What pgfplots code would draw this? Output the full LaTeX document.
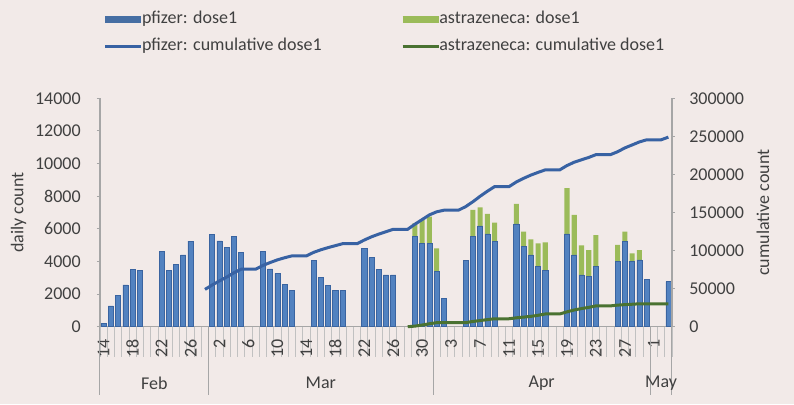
\documentclass[border=0pt]{standalone}
\usepackage{fontspec}
\setmainfont{Carlito}
\usepackage{pgfplots}
\usepackage{pgfplotstable}
\pgfplotsset{compat=1.18}

\definecolor{bgc}{HTML}{F2EAE8}
\definecolor{pfbar}{HTML}{5282C0}
\definecolor{pfedge}{HTML}{3A64A0}
\definecolor{azbar}{HTML}{9BBB59}
\definecolor{pfline}{HTML}{3862A3}
\definecolor{azline}{HTML}{4A7231}
\definecolor{axisgray}{HTML}{A6A6A6}
\definecolor{txt}{HTML}{404040}

% daily first doses (day 0 = 14 Feb)
\pgfplotstableread{
day pf az
0 200 0
1 1270 0
2 1900 0
3 2560 0
4 3520 0
5 3460 0
8 4600 0
9 3440 0
10 3840 0
11 4400 0
12 5240 0
15 5660 0
16 5260 0
17 4870 0
18 5520 0
19 4540 0
22 4600 0
23 3540 0
24 3270 0
25 2580 0
26 2250 0
29 4050 0
30 3030 0
31 2520 0
32 2250 0
33 2250 0
36 4800 0
37 4230 0
38 3520 0
39 3170 0
40 3170 0
43 5560 780
44 5110 1430
45 5110 1640
46 3370 1430
47 1740 0
50 4050 0
51 5520 1640
52 6180 1140
53 5690 1220
54 5210 1170
57 6300 1230
58 4910 920
59 4400 960
60 3680 1430
61 3440 1730
64 5690 2800
65 4400 2450
66 3170 1810
67 3070 1630
68 3680 1940
71 3990 1020
72 5210 620
73 3990 510
74 4090 610
75 2900 0
78 2760 0
}\daily

\pgfplotstableread{
day cum
14 49000
15 54800
16 60190
17 65190
18 70850
19 75500
20 75500
21 75500
22 80460
23 84270
24 87800
25 90580
26 93000
27 93000
28 93000
29 97600
30 101030
31 103890
32 106450
33 109000
34 109000
35 109000
36 113830
37 118080
38 121620
39 124810
40 128000
41 128000
42 128000
43 134650
44 140770
45 146880
46 150920
47 153000
48 153000
49 153000
50 157710
51 164130
52 171320
53 177940
54 184000
55 184000
56 184000
57 190100
58 194850
59 199110
60 202670
61 206000
62 206000
63 206000
64 211690
65 216090
66 219250
67 222320
68 226000
69 226000
70 226000
71 229860
72 234890
73 238750
74 242700
75 245500
76 245500
77 245500
78 249000
}\pfcum

\pgfplotstableread{
day cum
42 0
43 780
44 2210
45 3850
46 5280
47 5280
48 5280
49 5280
50 5280
51 6920
52 8060
53 9280
54 10450
55 10450
56 10450
57 11680
58 12600
59 13560
60 14990
61 16720
62 16720
63 16720
64 19520
65 21970
66 23780
67 25410
68 27350
69 27350
70 27350
71 28370
72 28990
73 29500
74 30110
75 30110
76 30110
77 30110
78 30110
}\azcum

\begin{document}
\begin{tikzpicture}[font=\fontsize{9}{10.8}\selectfont, text=txt]
\fill[bgc] (0,0) rectangle (397pt,202pt);
\useasboundingbox (0,0) rectangle (397pt,202pt);

\pgfplotsset{
  common/.style={
    scale only axis, width=286pt, height=114.2pt,
    at={(50pt,38.65pt)}, anchor=south west,
    xmin=-0.5, xmax=78.5, clip=false,
    axis line style={axisgray, line width=0.6pt},
    tick style={axisgray, line width=0.5pt},
    tick align=outside, major tick length=1.5pt,
    /pgf/number format/.cd, fixed, precision=0, assume math mode=true,
    set thousands separator={}, /pgfplots/.cd,
    scaled y ticks=false,
  }
}

\begin{axis}[common,
  ymin=0, ymax=14000, ytick={0,2000,...,14000},
  axis x line*=bottom, axis y line*=left,
  yticklabel style={xshift=-4.6pt},
  ybar stacked, bar width=0.7,
  xtick={0,4,...,76},
  xticklabels={14,18,22,26,2,6,10,14,18,22,26,30,3,7,11,15,19,23,27,1},
  xticklabel style={yshift=-1.4pt, rotate=90, anchor=east},
  major x tick style={draw=none},
  minor xtick={-0.5,0.5,...,78.5}, minor tick length=15pt,
  minor x tick style={axisgray!70, line width=0.4pt},
  extra x ticks={-0.5,14.5,45.5,75.5,78.5},
  extra x tick labels={{},{},{},{},{}},
  extra x tick style={major tick length=34pt, major x tick style={draw=axisgray, line width=0.5pt}},
  every axis y label/.style={at={(axis description cs:-0.1425,0.5)}, rotate=90, anchor=center},
  ylabel={daily count},
]
\addplot[fill=pfbar, draw=pfedge, line width=0.3pt] table[x=day, y=pf]{\daily};
\addplot[fill=azbar, draw=none] table[x=day, y=az]{\daily};
\node at (axis cs:7,0) [yshift=-28.2pt] {Feb};
\node at (axis cs:30,0) [yshift=-28.2pt] {Mar};
\node at (axis cs:60.5,0) [yshift=-28.2pt] {Apr};
\node at (axis cs:77,0) [yshift=-28.2pt] {May};
\end{axis}

\begin{axis}[common,
  ymin=0, ymax=300000, ytick={0,50000,...,300000},
  axis y line*=right, axis x line=none,
  yticklabel style={xshift=3.6pt},
  every axis y label/.style={at={(axis description cs:1.159,0.5)}, rotate=90, anchor=center},
  ylabel={cumulative count},
  legend columns=2,
  legend cell align=left,
  legend image code/.code={\draw[#1] (0pt,0pt) -- (18pt,0pt);},
  legend style={draw=none, fill=none, inner sep=0pt,
    at={(axis description cs:0.002,1.393)}, anchor=north west,
    row sep=3pt,
    nodes={inner sep=1pt, text height=6.5pt, text depth=2pt},
    /tikz/every odd column/.append style={column sep=-2.5pt},
    /tikz/every even column/.append style={column sep=37.5pt}},
]
\addlegendimage{pfbar!85!black, line width=3.8pt}
\addlegendentry{pfizer: dose1}
\addlegendimage{azbar, line width=3.8pt}
\addlegendentry{astrazeneca: dose1}
\addplot[pfline, line width=1.5pt] table[x=day, y=cum]{\pfcum};
\addlegendentry{pfizer: cumulative dose1}
\addplot[azline, line width=1.5pt] table[x=day, y=cum]{\azcum};
\addlegendentry{astrazeneca: cumulative dose1}
\end{axis}
\end{tikzpicture}
\end{document}
